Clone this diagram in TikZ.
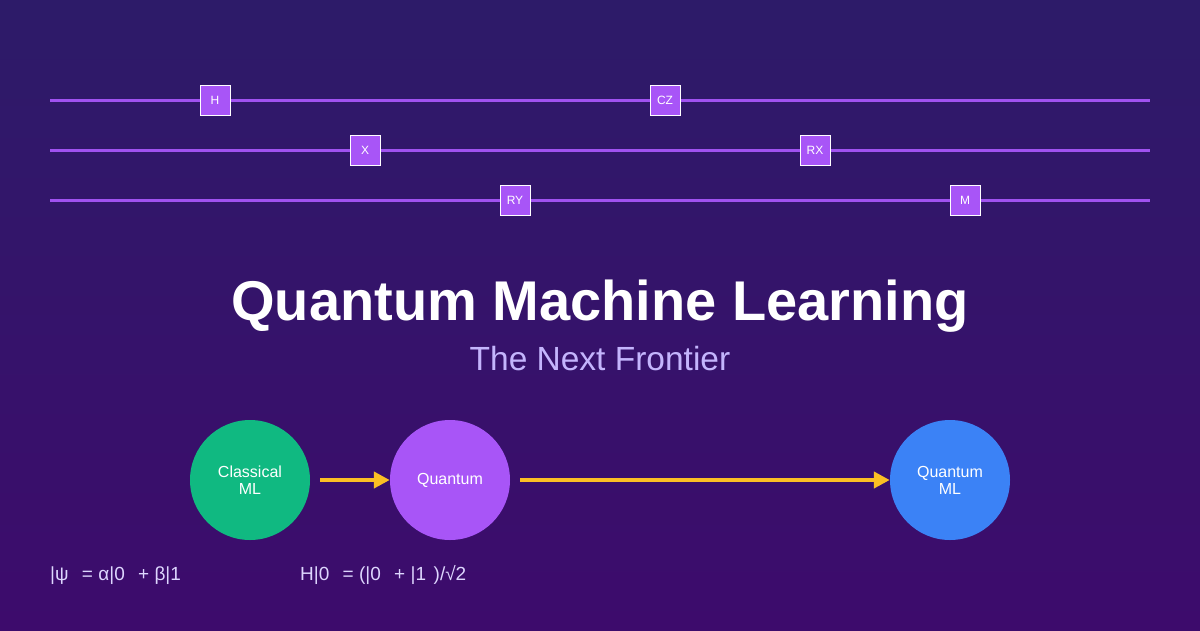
\documentclass[tikz,border=0pt]{standalone}
\usepackage{fontspec}
\setmainfont{Liberation Sans}
\usepackage{xcolor}
\usetikzlibrary{arrows.meta}

\begin{document}
\begin{tikzpicture}[x=1pt,y=-1pt,
  gate/.style={draw=white,line width=1pt,fill=gatepurple,minimum size=30,inner sep=0,text=white,font=\fontsize{12}{12}\selectfont},
  stage/.style={circle,minimum size=120,inner sep=0,text=white,align=center,font=\fontsize{16}{17}\selectfont},
  flow/.style={line width=4pt,draw=amber,-{Triangle[length=16pt,width=16pt]}},
  formula/.style={anchor=base west,inner sep=0,text=lavender,font=\fontsize{19}{19}\selectfont}]
\definecolor{bgtop}{HTML}{2D1B69}
\definecolor{bgbottom}{HTML}{3D0B6C}
\definecolor{gatepurple}{HTML}{A855F7}
\definecolor{wire}{HTML}{A052F0}
\definecolor{emerald}{HTML}{10B981}
\definecolor{azure}{HTML}{3B82F6}
\definecolor{amber}{HTML}{FBBF24}
\definecolor{lavender}{HTML}{DDD6FE}
\definecolor{softviolet}{HTML}{C4B5FD}
\shade[top color=bgtop,bottom color=bgbottom] (0,0) rectangle (1200,630);
\useasboundingbox (0,0) rectangle (1200,630);
% circuit wires
  \foreach \wy in {100,150,200}
  {  \draw[wire,line width=3pt] (50,\wy) -- (1150,\wy);}
% gates
  \foreach \gname/\gx/\gy in {H/215/100,CZ/665/100,X/365/150,RX/815/150,RY/515/200,M/965/200}
  {  \node [gate] (g\gname) at (\gx,\gy) {\gname};}
\node [anchor=base,text=white,font=\bfseries\fontsize{56}{56}\selectfont] (title) at (600,320) {Quantum Machine Learning};
\node [anchor=base,text=softviolet,font=\fontsize{33.5}{33.5}\selectfont] (subtitle) at (600,370) {The Next Frontier};
\node [stage,fill=emerald] (classical) at (250,480) {Classical\\ML};
\node [stage,fill=gatepurple] (quantum) at (450,480) {Quantum};
\node [stage,fill=azure] (qml) at (950,480) {Quantum\\ML};
\draw [flow,shorten <=10pt] (classical.east) -- (quantum.west);
\draw [flow,shorten <=10pt] (quantum.east) -- (qml.west);
\node [formula] (state) at (50,580) {|ψ\hspace{0.7em}= α|0\hspace{0.7em}+ β|1};
\node [formula] (hadamard) at (300,580) {H|0\hspace{0.7em}= (|0\hspace{0.7em}+ |1\hspace{0.4em})/√2};
\end{tikzpicture}
\end{document}
